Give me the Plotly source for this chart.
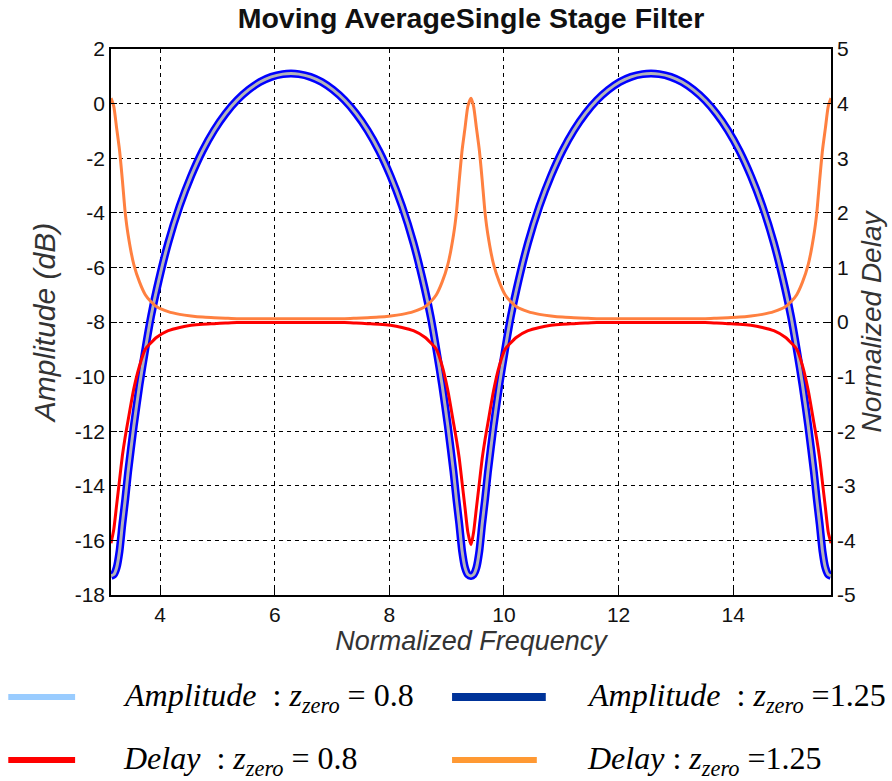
import plotly.graph_objects as go

# ---------------- data ----------------
freq = [3.1416, 3.19, 3.24, 3.29, 3.34, 3.39, 3.44, 3.54, 3.64, 3.74, 3.84, 3.94,
        4.14, 4.34, 4.54, 4.74, 4.94, 5.14, 5.34, 5.54, 5.74, 5.94, 6.14, 6.2832,
        6.42, 6.62, 6.82, 7.02, 7.22, 7.42, 7.62, 7.82, 8.02, 8.22, 8.42, 8.62,
        8.72, 8.82, 8.92, 9.02, 9.12, 9.17, 9.22, 9.27, 9.32, 9.37, 9.4248,
        9.47, 9.52, 9.57, 9.62, 9.67, 9.72, 9.82, 9.92, 10.02, 10.12, 10.22,
        10.42, 10.62, 10.82, 11.02, 11.22, 11.42, 11.62, 11.82, 12.02, 12.22, 12.42, 12.5664,
        12.71, 12.91, 13.11, 13.31, 13.51, 13.71, 13.91, 14.11, 14.31, 14.51, 14.71, 14.91,
        15.01, 15.11, 15.21, 15.31, 15.41, 15.46, 15.51, 15.56, 15.61, 15.66, 15.708]

# amplitude (dB), identical for z_zero = 0.8 and 1.25 after normalisation
amp_08 = [-17.3, -17.25, -17.0, -16.4, -15.4, -14.5, -13.5, -11.8, -10.3, -9.0, -7.8, -6.8,
          -5.1, -3.75, -2.65, -1.73, -0.98, -0.37, 0.12, 0.50, 0.79, 0.98, 1.08, 1.10,
          1.08, 0.98, 0.79, 0.50, 0.12, -0.37, -0.98, -1.73, -2.65, -3.75, -5.1, -6.8,
          -7.8, -9.0, -10.3, -11.8, -13.5, -14.5, -15.4, -16.4, -17.0, -17.25, -17.3,
          -17.25, -17.0, -16.4, -15.4, -14.5, -13.5, -11.8, -10.3, -9.0, -7.8, -6.8,
          -5.1, -3.75, -2.65, -1.73, -0.98, -0.37, 0.12, 0.50, 0.79, 0.98, 1.08, 1.10,
          1.08, 0.98, 0.79, 0.50, 0.12, -0.37, -0.98, -1.73, -2.65, -3.75, -5.1, -6.8,
          -7.8, -9.0, -10.3, -11.8, -13.5, -14.5, -15.4, -16.4, -17.0, -17.25, -17.3]
amp_125 = list(amp_08)

# normalised delay
delay_08 = [-4.05, -3.8, -3.35, -2.9, -2.45, -2.1, -1.8, -1.22, -0.8, -0.5, -0.38, -0.28,
            -0.16, -0.1, -0.06, -0.04, -0.03, -0.02, -0.01, -0.01, -0.01, -0.01, -0.01, -0.01,
            -0.01, -0.01, -0.01, -0.01, -0.01, -0.02, -0.03, -0.04, -0.06, -0.1, -0.16, -0.28,
            -0.38, -0.5, -0.8, -1.25, -1.85, -2.15, -2.5, -2.95, -3.4, -3.85, -4.08,
            -3.85, -3.4, -2.95, -2.5, -2.15, -1.85, -1.25, -0.8, -0.5, -0.38, -0.28,
            -0.16, -0.1, -0.06, -0.04, -0.03, -0.02, -0.01, -0.01, -0.01, -0.01, -0.01, -0.01,
            -0.01, -0.01, -0.01, -0.01, -0.01, -0.02, -0.03, -0.04, -0.06, -0.1, -0.16, -0.28,
            -0.38, -0.5, -0.8, -1.25, -1.85, -2.15, -2.5, -2.95, -3.4, -3.85, -4.05]
delay_125 = [4.1, 3.95, 3.55, 3.15, 2.6, 2.0, 1.6, 1.05, 0.73, 0.5, 0.37, 0.28,
             0.19, 0.14, 0.11, 0.09, 0.08, 0.07, 0.06, 0.06, 0.06, 0.06, 0.06, 0.06,
             0.06, 0.06, 0.06, 0.06, 0.06, 0.07, 0.08, 0.09, 0.11, 0.14, 0.19, 0.28,
             0.37, 0.5, 0.73, 1.05, 1.6, 2.0, 2.6, 3.15, 3.55, 3.95, 4.1,
             3.95, 3.55, 3.15, 2.6, 2.0, 1.6, 1.05, 0.73, 0.5, 0.37, 0.28,
             0.19, 0.14, 0.11, 0.09, 0.08, 0.07, 0.06, 0.06, 0.06, 0.06, 0.06, 0.06,
             0.06, 0.06, 0.06, 0.06, 0.06, 0.07, 0.08, 0.09, 0.11, 0.14, 0.19, 0.28,
             0.37, 0.5, 0.73, 1.05, 1.6, 2.0, 2.6, 3.15, 3.55, 3.95, 4.1]

x_ticks = [4, 6, 8, 10, 12, 14]
x_ticktext = ["4", "6", "8", "10", "12", "14"]
y_ticks = [-18, -16, -14, -12, -10, -8, -6, -4, -2, 0, 2]
y_ticktext = ["-18", "-16", "-14", "-12", "-10", "-8", "-6", "-4", "-2", "0", "2"]
y2_ticks = [-5, -4, -3, -2, -1, 0, 1, 2, 3, 4, 5]
y2_ticktext = ["-5", "-4", "-3", "-2", "-1", "0", "1", "2", "3", "4", "5"]

legend_labels = [
    "<i>Amplitude</i>&nbsp; : <i>z</i><sub><i>zero</i></sub> = 0.8",
    "<i>Amplitude</i>&nbsp; : <i>z</i><sub><i>zero</i></sub> =1.25",
    "<i>Delay</i>&nbsp; : <i>z</i><sub><i>zero</i></sub> = 0.8",
    "<i>Delay</i> : <i>z</i><sub><i>zero</i></sub> =1.25",
]
legend_colors = ["#99ccff", "#003399", "#ff0000", "#ff9933"]

# ---------------- figure ----------------
fig = go.Figure()
fig.add_trace(go.Scatter(x=freq, y=amp_125, mode="lines", yaxis="y",
                         line=dict(color="#0000ff", width=8, shape="spline", smoothing=0.6),
                         name="Amplitude z=1.25"))
fig.add_trace(go.Scatter(x=freq, y=amp_08, mode="lines", yaxis="y",
                         line=dict(color="#b4b4b8", width=3, shape="spline", smoothing=0.6),
                         name="Amplitude z=0.8"))
fig.add_trace(go.Scatter(x=freq, y=delay_125, mode="lines", yaxis="y2",
                         line=dict(color="#ff8040", width=3, shape="spline", smoothing=0.6),
                         name="Delay z=1.25"))
fig.add_trace(go.Scatter(x=freq, y=delay_08, mode="lines", yaxis="y2",
                         line=dict(color="#ff0000", width=3, shape="spline", smoothing=0.6),
                         name="Delay z=0.8"))

tick_font = dict(family="Liberation Sans, Arial", size=21, color="#111111")
xtitle_font = dict(family="Liberation Sans, Arial", size=27, color="#333333")
ytitle_font = dict(family="Liberation Sans, Arial", size=30, color="#333333")
y2title_font = dict(family="Liberation Sans, Arial", size=28, color="#333333")

fig.update_layout(
    width=892, height=781,
    margin=dict(l=111, r=59, t=49, b=186),
    paper_bgcolor="white", plot_bgcolor="white",
    showlegend=False,
    title=dict(text="<b>Moving AverageSingle Stage Filter</b>", x=0.5, xref="paper",
               xanchor="center", y=0.977, yanchor="middle",
               font=dict(family="Liberation Sans, Arial", size=28.5, color="#111111")),
    xaxis=dict(range=[3.1416, 15.708], tickvals=x_ticks, ticktext=x_ticktext,
               showgrid=True, gridcolor="black", griddash="4px,4px", gridwidth=1,
               showline=True, linecolor="black", linewidth=1.5, mirror=True,
               ticks="inside", ticklen=6, tickcolor="black", zeroline=False,
               tickfont=tick_font,
               title=dict(text="<i>Normalized Frequency</i>", font=xtitle_font, standoff=6)),
    yaxis=dict(range=[-18, 2], tickvals=y_ticks, ticktext=y_ticktext,
               showgrid=True, gridcolor="black", griddash="4px,4px", gridwidth=1,
               showline=True, linecolor="black", linewidth=1.5,
               ticks="inside", ticklen=6, tickcolor="black", zeroline=False,
               tickfont=tick_font,
               title=dict(text="<i>Amplitude (dB)</i>", font=ytitle_font, standoff=10)),
    yaxis2=dict(range=[-5, 5], tickvals=y2_ticks, ticktext=y2_ticktext,
                overlaying="y", side="right", showgrid=False,
                showline=True, linecolor="black", linewidth=1.5,
                ticks="inside", ticklen=6, tickcolor="black", zeroline=False,
                tickfont=tick_font,
                title=dict(text="<i>Normalized Delay</i>", font=y2title_font, standoff=4)),
)

# custom legend below the plot (paper coordinates)
W = 722.0
H = 546.0
def px(xp):
    return (xp - 111) / W
def py(yp):
    return (595 - yp) / H

rows = [697, 760]
swatches = [(8, 75, 6), (453, 547, 8), (8, 75, 6), (453, 538, 6)]
text_x = [121, 586, 121, 586]
for i, lab in enumerate(legend_labels):
    r = rows[i // 2]
    x0, x1, w = swatches[i]
    fig.add_shape(type="line", xref="paper", yref="paper",
                  x0=px(x0), x1=px(x1), y0=py(r), y1=py(r),
                  line=dict(color=legend_colors[i], width=w))
    fig.add_annotation(text=lab, xref="paper", yref="paper", x=px(text_x[i]), y=py(r),
                       xanchor="left", yanchor="middle", showarrow=False,
                       font=dict(family="Liberation Serif, Times New Roman", size=32, color="black"))

fig.write_html("out.html")
